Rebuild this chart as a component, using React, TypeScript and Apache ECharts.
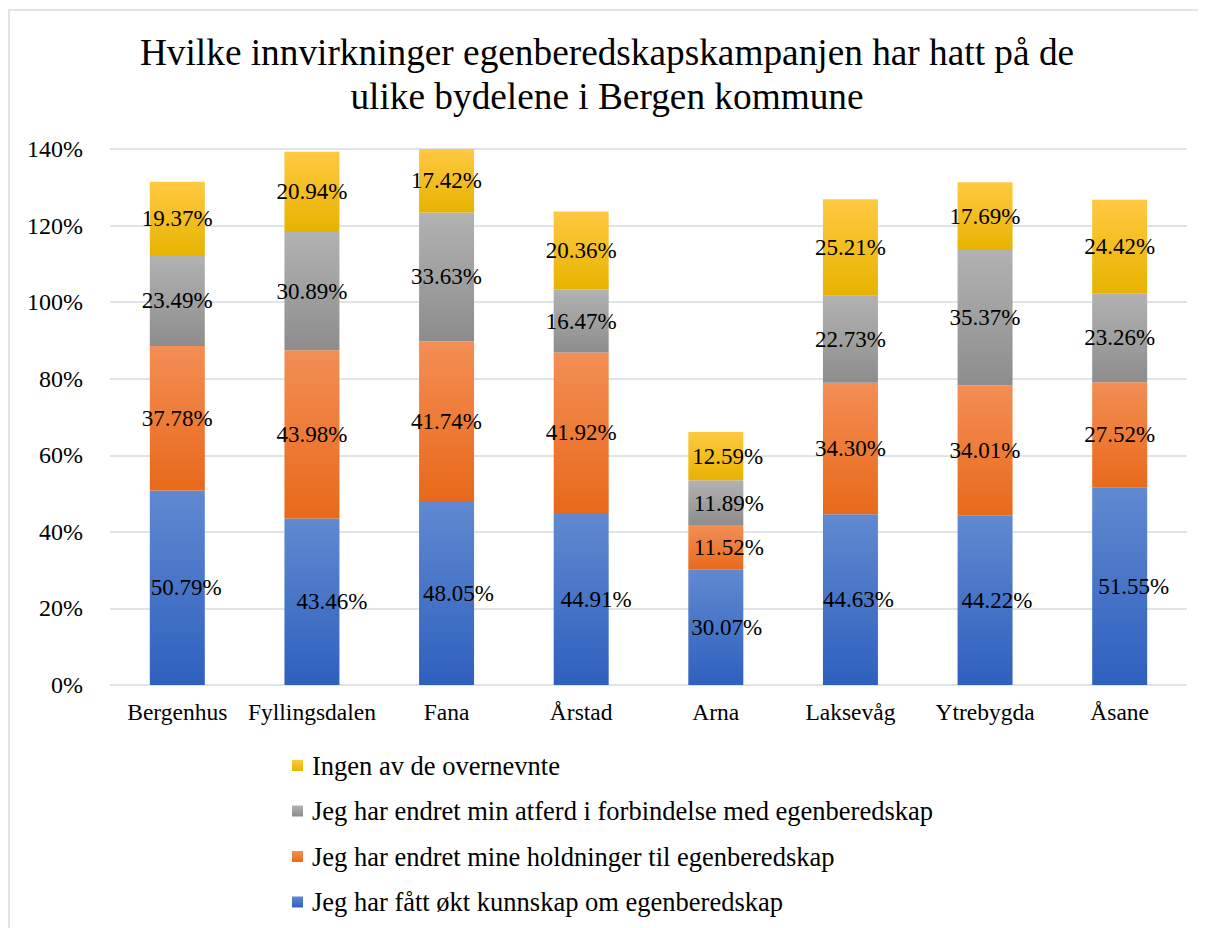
import React, { useEffect, useRef } from "react";
import * as echarts from "echarts";

const titleText = "Hvilke innvirkninger egenberedskapskampanjen har hatt på de\nulike bydelene i Bergen kommune";
const categories = ["Bergenhus", "Fyllingsdalen", "Fana", "Årstad", "Arna", "Laksevåg", "Ytrebygda", "Åsane"];
const seriesNames = [
  "Jeg har fått økt kunnskap om egenberedskap",
  "Jeg har endret mine holdninger til egenberedskap",
  "Jeg har endret min atferd i forbindelse med egenberedskap",
  "Ingen av de overnevnte",
];
const kunnskap = [50.79, 43.46, 48.05, 44.91, 30.07, 44.63, 44.22, 51.55];
const holdninger = [37.78, 43.98, 41.74, 41.92, 11.52, 34.3, 34.01, 27.52];
const atferd = [23.49, 30.89, 33.63, 16.47, 11.89, 22.73, 35.37, 23.26];
const ingen = [19.37, 20.94, 17.42, 20.36, 12.59, 25.21, 17.69, 24.42];
const yTicks = { min: 0, max: 140, interval: 20 };

// horizontal label nudges (px), as placed in the reference
const labelNudge = [
  [9, 20, 12, 15, 11, 8, 12, 14],
  [0, 0, 0, 0, 13, 0, 0, 0],
  [0, 0, 0, 0, 13, 0, 0, 0],
  [0, 0, 0, 0, 12, 0, 0, 0],
];

const gradients = [
  ["#6089d0", "#2e60be"],
  ["#f38e55", "#e8691a"],
  ["#b2b2b2", "#8d8d8d"],
  ["#ffc942", "#e7b300"],
];

const FONT = "Liberation Serif";

export default function App() {
  const ref = useRef<HTMLDivElement>(null);
  useEffect(() => {
    if (!ref.current) return;
    const chart = echarts.init(ref.current, null, { renderer: "svg" });
    const values = [kunnskap, holdninger, atferd, ingen];
    const series = values.map((vals, si) => ({
      name: seriesNames[si],
      type: "bar",
      stack: "total",
      barWidth: 55,
      itemStyle: {
        color: new echarts.graphic.LinearGradient(0, 0, 0, 1, [
          { offset: 0, color: gradients[si][0] },
          { offset: 1, color: gradients[si][1] },
        ]),
      },
      label: {
        show: true,
        position: "inside",
        color: "#000",
        fontFamily: FONT,
        fontSize: 23,
        formatter: (p: any) => p.value.toFixed(2) + "%",
      },
      data: vals.map((v, i) => ({
        value: v,
        label: { offset: [labelNudge[si][i], 0] },
      })),
    }));
    chart.setOption({
      animation: false,
      backgroundColor: "#fff",
      textStyle: { fontFamily: FONT },
      title: {
        text: titleText,
        left: "center",
        top: 17,
        textStyle: {
          fontFamily: FONT,
          fontSize: 37.3,
          fontWeight: "normal",
          color: "#000",
          lineHeight: 44,
        },
      },
      graphic: [
        { type: "line", shape: { x1: 0, y1: 2, x2: 1198, y2: 2 }, style: { stroke: "#dfe3ea", lineWidth: 2 } },
        { type: "line", shape: { x1: 1, y1: 2, x2: 1, y2: 920 }, style: { stroke: "#dfe3ea", lineWidth: 2 } },
      ],
      legend: {
        orient: "vertical",
        left: 279,
        top: 739,
        itemWidth: 11,
        itemHeight: 11,
        itemGap: 18.5,
        data: [...seriesNames].reverse(),
        icon: "rect",
        textStyle: { fontFamily: FONT, fontSize: 26.5, color: "#000", lineHeight: 26, padding: [0, 0, 0, 4] },
      },
      grid: { left: 102, width: 1077, top: 141, height: 536, containLabel: false },
      xAxis: {
        type: "category",
        data: categories,
        axisLine: { show: false },
        axisTick: { show: false },
        axisLabel: { fontFamily: FONT, fontSize: 23.5, color: "#000", margin: 15, interval: 0 },
      },
      yAxis: {
        type: "value",
        min: yTicks.min,
        max: yTicks.max,
        interval: yTicks.interval,
        axisLine: { show: false },
        axisTick: { show: false },
        splitLine: { lineStyle: { color: "#dfe3ea", width: 2 } },
        axisLabel: { fontFamily: FONT, fontSize: 24, color: "#000", margin: 27, formatter: "{value}%" },
      },
      series,
    });
    return () => chart.dispose();
  }, []);
  return <div ref={ref} style={{ width: 1198, height: 920 }} />;
}
